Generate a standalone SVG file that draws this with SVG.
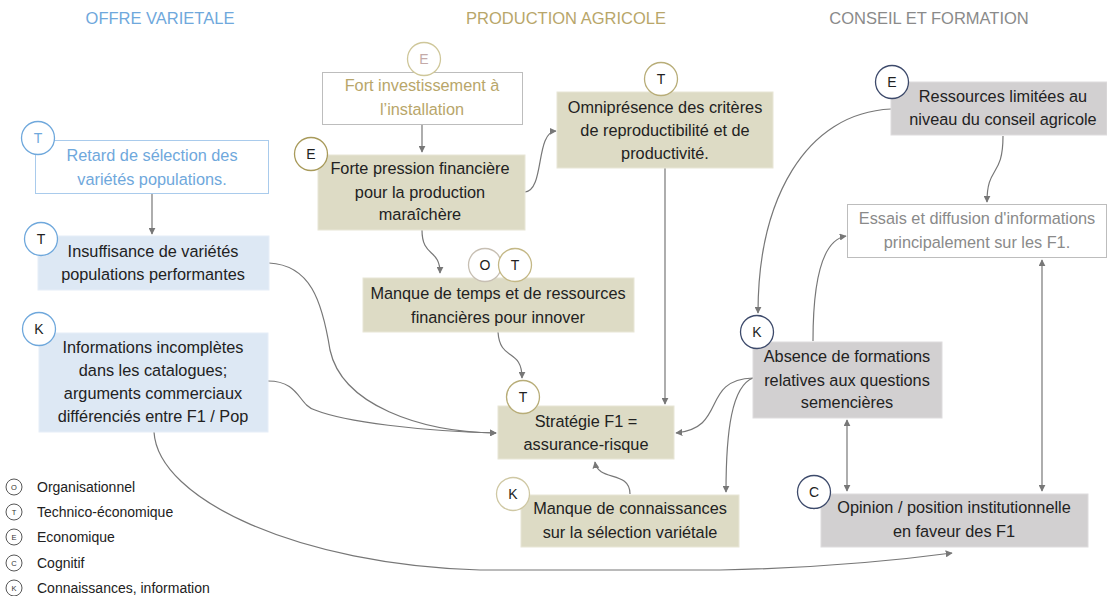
<svg xmlns="http://www.w3.org/2000/svg" width="1107" height="596" viewBox="0 0 1107 596">
<defs>
<marker id="ah" viewBox="0 0 10 10" refX="9" refY="5" markerWidth="7" markerHeight="7" orient="auto-start-reverse" markerUnits="userSpaceOnUse">
<path d="M0,0 L10,5 L0,10 z" fill="#777"/>
</marker>
<style>
text{font-family:"Liberation Sans",Arial,sans-serif;}
.t{font-size:16.3px;fill:#222;text-anchor:middle;}
.title{font-size:16.5px;text-anchor:middle;}
.bl{fill:#dde8f4;stroke:#e6eef8;stroke-width:1;}
.ol{fill:#dddbc5;stroke:#e8e6d6;stroke-width:1;}
.gr{fill:#d2d0d1;stroke:#dedcdd;stroke-width:1;}
.c{fill:#fff;stroke-width:1.3;}
.ct{font-size:14px;fill:#222;text-anchor:middle;}
.con{fill:none;stroke:#777;stroke-width:1.2;}
.lg{fill:#fff;stroke:#444;stroke-width:0.9;}
.lgt{font-size:7.5px;fill:#333;text-anchor:middle;}
.lgl{font-size:14px;fill:#222;}
</style>
</defs>
<rect width="1107" height="596" fill="#fff"/>

<g id="titles">
<text class="title" x="160" y="24" fill="#6fa8dc">OFFRE VARIETALE</text>
<text class="title" x="566" y="24" fill="#b8a66a">PRODUCTION AGRICOLE</text>
<text class="title" x="929" y="24" fill="#8a8a8a">CONSEIL ET FORMATION</text>
</g>

<g id="connectors">
<path class="con" d="M152,194 L152,234" marker-end="url(#ah)"/>
<path class="con" d="M422,124 L422,152" marker-end="url(#ah)"/>
<path class="con" d="M525,192 C545,190 535,132 556,131" marker-end="url(#ah)"/>
<path class="con" d="M422,230 C422,258 440,248 440,273" marker-end="url(#ah)"/>
<path class="con" d="M498,332 C500,362 522,348 522,378" marker-end="url(#ah)"/>
<path class="con" d="M665,168 L665,404" marker-end="url(#ah)"/>
<path class="con" d="M630,494 C630,470 598,482 595,462" marker-end="url(#ah)"/>
<path class="con" d="M269,263 C310,265 322,300 330,350 C342,405 420,432 496,433" marker-end="url(#ah)"/>
<path class="con" d="M268,381 C300,381 298,405 315,410 C345,422 420,431 496,433" marker-end="url(#ah)"/>
<path class="con" d="M154,432 C158,500 300,565 480,570 L720,570 C820,568 900,560 952,553" marker-end="url(#ah)"/>
<path class="con" d="M1003,136 C1003,178 987,165 987,202" marker-end="url(#ah)"/>
<path class="con" d="M891,109 C805,113 758,200 758,313" marker-end="url(#ah)"/>
<path class="con" d="M813,341 C813,280 822,240 846,236" marker-end="url(#ah)"/>
<path class="con" d="M753,378 C700,380 728,428 676,433" marker-end="url(#ah)"/>
<path class="con" d="M753,378 C732,386 726,430 726,492" marker-end="url(#ah)"/>
<path class="con" d="M847,420 L847,491" marker-start="url(#ah)" marker-end="url(#ah)"/>
<path class="con" d="M1042,260 L1042,491" marker-start="url(#ah)" marker-end="url(#ah)"/>
</g>

<g id="n-retard">
<rect x="35.5" y="140.5" width="233" height="53" fill="#fff" stroke="#a9cbec" stroke-width="1"/>
<text class="t" x="152" y="161" style="fill:#6fa8dc">Retard de sélection des</text>
<text class="t" x="152" y="185" style="fill:#6fa8dc">variétés populations.</text>
<circle class="c" cx="38" cy="138" r="16.5" stroke="#6fa8dc"/>
<text class="ct" x="38" y="143" style="fill:#6fa8dc">T</text>
</g>

<g id="n-insuffisance">
<rect class="bl" x="38" y="236" width="231" height="54"/>
<text class="t" x="153" y="257">Insuffisance de variétés</text>
<text class="t" x="153" y="280">populations performantes</text>
<circle class="c" cx="41" cy="239" r="16.5" stroke="#6fa8dc"/>
<text class="ct" x="41" y="244">T</text>
</g>

<g id="n-informations">
<rect class="bl" x="39" y="333" width="229" height="99"/>
<text class="t" x="153" y="353">Informations incomplètes</text>
<text class="t" x="153" y="376">dans les catalogues;</text>
<text class="t" x="153" y="399">arguments commerciaux</text>
<text class="t" x="153" y="422">différenciés entre F1 / Pop</text>
<circle class="c" cx="39" cy="329" r="16.5" stroke="#6fa8dc"/>
<text class="ct" x="39" y="334">K</text>
</g>

<g id="n-fort-invest">
<rect x="322.5" y="72.5" width="200" height="52" fill="#fff" stroke="#bdbdbd" stroke-width="1"/>
<text class="t" x="422" y="91" style="fill:#b8a66a">Fort investissement à</text>
<text class="t" x="422" y="115" style="fill:#b8a66a">l’installation</text>
<circle class="c" cx="424" cy="59" r="16.5" stroke="#cfc79a"/>
<text class="ct" x="424" y="64" style="fill:#c4aaa8">E</text>
</g>

<g id="n-forte-pression">
<rect class="ol" x="318" y="155" width="207" height="75"/>
<text class="t" x="420" y="174">Forte pression financière</text>
<text class="t" x="420" y="198">pour la production</text>
<text class="t" x="420" y="220">maraîchère</text>
<circle class="c" cx="311" cy="154" r="16.5" stroke="#a89a5a"/>
<text class="ct" x="311" y="159">E</text>
</g>

<g id="n-omnipresence">
<rect class="ol" x="557" y="92" width="216" height="76"/>
<text class="t" x="665" y="113">Omniprésence des critères</text>
<text class="t" x="665" y="136">de reproductibilité et de</text>
<text class="t" x="665" y="159">productivité.</text>
<circle class="c" cx="661" cy="79" r="16.5" stroke="#b8ad78"/>
<text class="ct" x="661" y="84">T</text>
</g>

<g id="n-manque-temps">
<rect class="ol" x="363" y="278" width="271" height="54"/>
<text class="t" x="498" y="299">Manque de temps et de ressources</text>
<text class="t" x="498" y="323">financières pour innover</text>
<circle class="c" cx="485" cy="265" r="16.5" stroke="#c7bfb3"/>
<text class="ct" x="485" y="270">O</text>
<circle class="c" cx="515" cy="265" r="16.5" stroke="#c4b886"/>
<text class="ct" x="515" y="270">T</text>
</g>

<g id="n-strategie">
<rect class="ol" x="498" y="406" width="176" height="53"/>
<text class="t" x="586" y="427">Stratégie F1 =</text>
<text class="t" x="586" y="450">assurance-risque</text>
<circle class="c" cx="523" cy="397" r="16.5" stroke="#b8ad78"/>
<text class="ct" x="523" y="402">T</text>
</g>

<g id="n-manque-conn">
<rect class="ol" x="521" y="495" width="218" height="52"/>
<text class="t" x="630" y="514">Manque de connaissances</text>
<text class="t" x="630" y="538">sur la sélection variétale</text>
<circle class="c" cx="513" cy="494" r="16.5" stroke="#cfc8a4"/>
<text class="ct" x="513" y="499">K</text>
</g>

<g id="n-ressources">
<rect class="gr" x="891" y="82" width="216" height="53"/>
<text class="t" x="1003" y="102">Ressources limitées au</text>
<text class="t" x="1003" y="125">niveau du conseil agricole</text>
<circle class="c" cx="892" cy="82" r="16.5" stroke="#3d4a6b"/>
<text class="ct" x="892" y="87">E</text>
</g>

<g id="n-essais">
<rect x="847.5" y="204.5" width="259" height="53" fill="#fff" stroke="#bdbdbd" stroke-width="1"/>
<text class="t" x="977" y="224" style="fill:#8a8a8a">Essais et diffusion d'informations</text>
<text class="t" x="977" y="248" style="fill:#8a8a8a">principalement sur les F1.</text>
</g>

<g id="n-absence">
<rect class="gr" x="753" y="342" width="189" height="76"/>
<text class="t" x="847" y="362">Absence de formations</text>
<text class="t" x="847" y="386">relatives aux questions</text>
<text class="t" x="847" y="408">semencières</text>
<circle class="c" cx="757" cy="332" r="16.5" stroke="#3d4a6b"/>
<text class="ct" x="757" y="337">K</text>
</g>

<g id="n-opinion">
<rect class="gr" x="821" y="494" width="267" height="53"/>
<text class="t" x="954" y="513">Opinion / position institutionnelle</text>
<text class="t" x="954" y="537">en faveur des F1</text>
<circle class="c" cx="814" cy="492" r="16.5" stroke="#3d4a6b"/>
<text class="ct" x="814" y="497">C</text>
</g>

<g id="legend">
<circle class="lg" cx="14" cy="487" r="8"/><text class="lgt" x="14" y="489.5">O</text>
<text class="lgl" x="37" y="492">Organisationnel</text>
<circle class="lg" cx="14" cy="512" r="8"/><text class="lgt" x="14" y="514.5">T</text>
<text class="lgl" x="37" y="517">Technico-économique</text>
<circle class="lg" cx="14" cy="537" r="8"/><text class="lgt" x="14" y="539.5">E</text>
<text class="lgl" x="37" y="542">Economique</text>
<circle class="lg" cx="14" cy="563" r="8"/><text class="lgt" x="14" y="565.5">C</text>
<text class="lgl" x="37" y="568">Cognitif</text>
<circle class="lg" cx="14" cy="588" r="8"/><text class="lgt" x="14" y="590.5">K</text>
<text class="lgl" x="37" y="593">Connaissances, information</text>
</g>
</svg>
